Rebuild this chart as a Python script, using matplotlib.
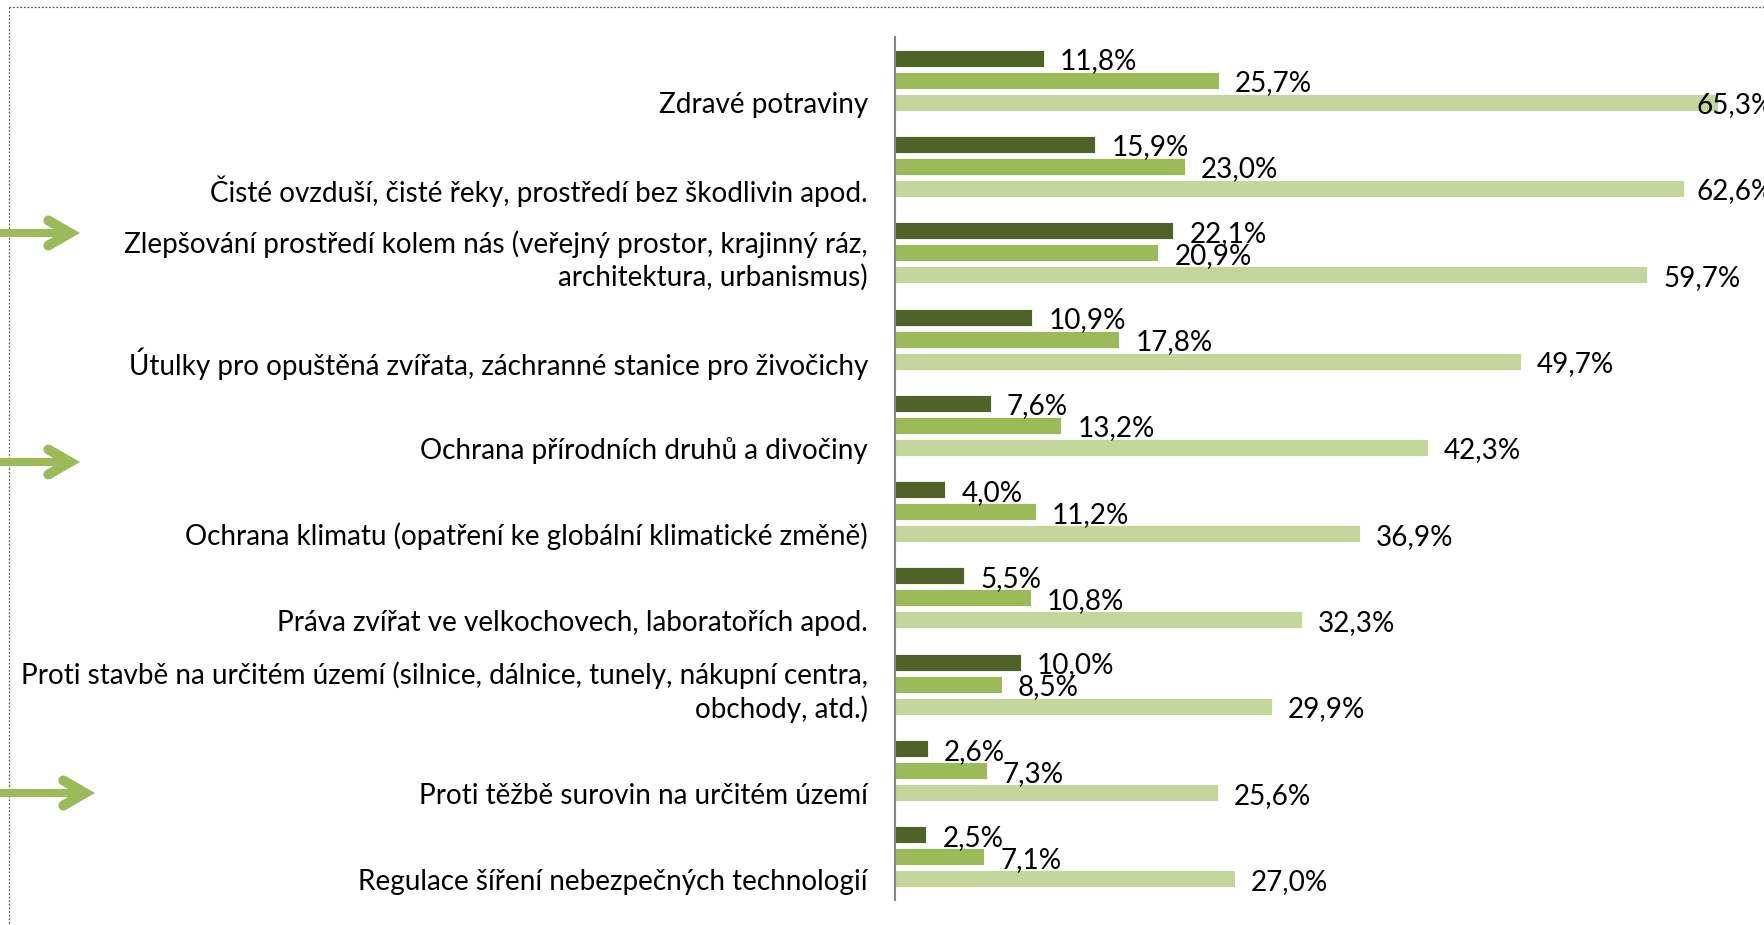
import matplotlib.pyplot as plt
from matplotlib.lines import Line2D
import numpy as np

plt.rcParams['font.family'] = ['Lato', 'DejaVu Sans']

categories = [
    "Zdravé potraviny",
    "Čisté ovzduší, čisté řeky, prostředí bez škodlivin apod.",
    "Zlepšování prostředí kolem nás (veřejný prostor, krajinný ráz,\narchitektura, urbanismus)",
    "Útulky pro opuštěná zvířata, záchranné stanice pro živočichy",
    "Ochrana přírodních druhů a divočiny",
    "Ochrana klimatu (opatření ke globální klimatické změně)",
    "Práva zvířat ve velkochovech, laboratořích apod.",
    "Proti stavbě na určitém území (silnice, dálnice, tunely, nákupní centra,\nobchody, atd.)",
    "Proti těžbě surovin na určitém území",
    "Regulace šíření nebezpečných technologií",
]
dark = [11.8, 15.9, 22.1, 10.9, 7.6, 4.0, 5.5, 10.0, 2.6, 2.5]
mid = [25.7, 23.0, 20.9, 17.8, 13.2, 11.2, 10.8, 8.5, 7.3, 7.1]
light = [65.3, 62.6, 59.7, 49.7, 42.3, 36.9, 32.3, 29.9, 25.6, 27.0]

colors = ["#4f6228", "#9bbb59", "#c3d69b"]
W, H = 1765, 925
fs = 20.1
dy = 0.035  # small downward nudge for text

fig = plt.figure(figsize=(W / 100, H / 100), dpi=100)
ax = fig.add_axes([895 / W, 1 - 900 / H, 870 / W, 863 / H])

y = np.arange(len(categories))
off = 0.255
bh = 0.197
xmax = 870 / 12.6
for k, (vals, c) in enumerate(zip([dark, mid, light], colors)):
    yy = y + (k - 1) * off
    ax.barh(yy, vals, height=bh, color=c, edgecolor='white', linewidth=0.6)
    for yi, v in zip(yy, vals):
        tx = min(v + 1.27, 63.65)
        ax.text(tx, yi + dy, f"{v:.1f}".replace('.', ',') + '%', va='center',
                ha='left', fontsize=fs, color='black', clip_on=False)

# category labels: last line sits on the light bar
tr = ax.get_yaxis_transform()
for yi, lab in zip(y, categories):
    lines = lab.split("\n")
    n = len(lines)
    for j, ln in enumerate(lines):
        ax.text(-27 / 870, yi + off + dy - (n - 1 - j) * 0.39, ln, transform=tr,
                ha='right', va='center', fontsize=fs, color='black')

ax.set_xlim(0, xmax)
ax.set_ylim(len(categories) - 0.5, -0.5)
ax.set_xticks([])
ax.set_yticks([])
for s in ['top', 'right', 'bottom']:
    ax.spines[s].set_visible(False)
ax.spines['left'].set_color('#868686')
ax.spines['left'].set_linewidth(1.5)

# dotted frame (top and left only visible)
px = 72 / 100
fig.add_artist(Line2D([9 / W, 1], [1 - 7 / H, 1 - 7 / H], transform=fig.transFigure,
                      color='#555555', lw=1.2 * px, ls=(0, (1.5, 1.5))))
fig.add_artist(Line2D([9 / W, 9 / W], [1 - 7 / H, 0], transform=fig.transFigure,
                      color='#555555', lw=1.2 * px, ls=(0, (1.5, 1.5))))

# green arrows on the left
arrows = [(80, 233), (80, 462), (95, 793)]
for tip, ay in arrows:
    T = tip - 10
    L = 25
    ex = T - L * np.cos(np.radians(30))
    ey = L * np.sin(np.radians(30))
    fig.add_artist(Line2D([0, T / W], [1 - ay / H, 1 - ay / H], transform=fig.transFigure,
                          color='#9bbb59', lw=8 * px, solid_capstyle='butt'))
    fig.add_artist(Line2D([ex / W, T / W, ex / W],
                          [1 - (ay - ey) / H, 1 - ay / H, 1 - (ay + ey) / H],
                          transform=fig.transFigure, color='#9bbb59', lw=10 * px,
                          solid_capstyle='round', solid_joinstyle='miter'))

fig.savefig("out.png", dpi=100)
